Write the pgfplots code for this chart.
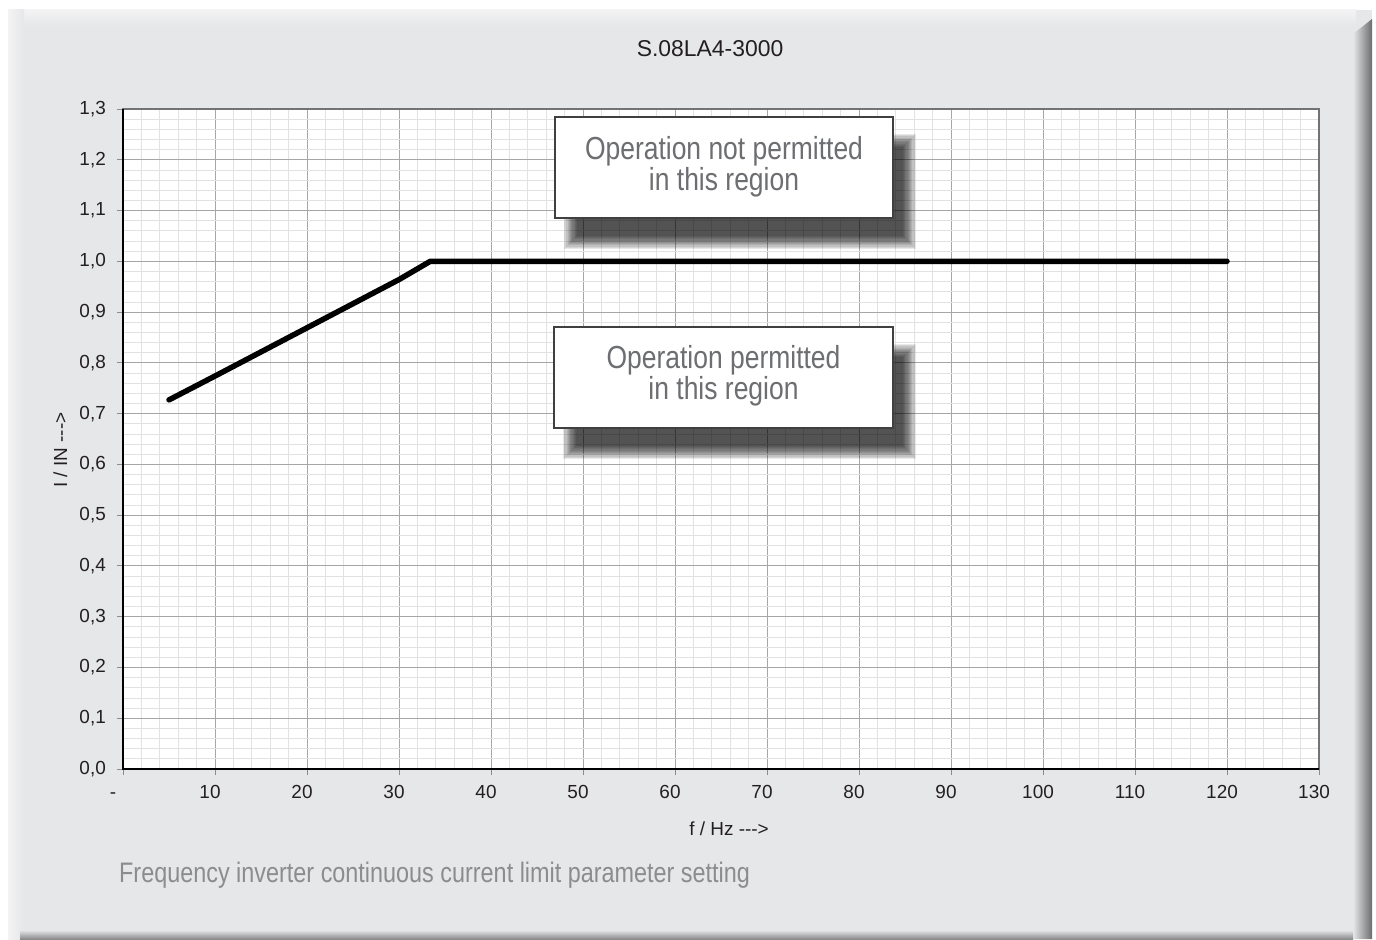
\documentclass[border=0pt]{standalone}
\usepackage{fontspec}
\setmainfont{Liberation Sans}
\newfontfamily\condfont[FakeStretch=0.83]{Liberation Sans}
\usepackage{pgfplots}
\pgfplotsset{compat=1.18}
\definecolor{panel}{HTML}{E6E7E9}
\definecolor{panelhi}{HTML}{F3F3F4}
\definecolor{shadowdark}{HTML}{6B6C6E}
\definecolor{shadowbot}{HTML}{8A8A8C}
\definecolor{gridmaj}{HTML}{A6A6A6}
\definecolor{gridmin}{HTML}{E2E2E2}
\definecolor{tickgray}{HTML}{8C8C8C}
\definecolor{boxtext}{HTML}{6D6E71}
\definecolor{bottomtext}{HTML}{8B8C8E}
\definecolor{titletext}{HTML}{231F20}
\newcommand{\blurshadow}[4]{%
  \foreach \e in {7,5.8,4.6,3.4,2.2,1,-0.2,-1.4,-2.6,-3.8,-5,-6.2}{%
    \fill[black, fill opacity=0.085] ({#1-(\e)},{#2-(\e)}) rectangle ({#3+(\e)},{#4+(\e)});
  }%
}
\begin{document}
\begin{tikzpicture}[x=1bp,y=1bp]
\useasboundingbox (0,0) rectangle (1376,939);
\fill[white] (0,0) rectangle (1376,939);
\fill[panel] (8,0) rectangle (1372,929);
\shade[top color=panelhi, bottom color=panel] (8,913) rectangle (1356,929);
\shade[left color=panelhi, right color=panel] (8,0) rectangle (24,929);
\shade[left color=panel, right color=shadowdark] (1353,0) -- (1353,905) -- (1372,920) -- (1372,0) -- cycle;
\shade[top color=panel, bottom color=shadowbot] (20,0) -- (20,9) -- (1353,9) -- (1353,0) -- cycle;
\begin{axis}[
  at={(123bp,170bp)}, anchor=south west,
  scale only axis, width=1196bp, height=660bp,
  axis background/.style={fill=white},
  xmin=0, xmax=130, ymin=0, ymax=1.3,
  xtick={0,10,20,30,40,50,60,70,80,90,100,110,120,130},
  xticklabels={{\vphantom{1}-\kern10bp},10,20,30,40,50,60,70,80,90,100,110,120,130},
  ytick={0,0.1,0.2,0.3,0.4,0.5,0.6,0.7,0.8,0.9,1.0,1.1,1.2,1.3},
  yticklabels={{0,0},{0,1},{0,2},{0,3},{0,4},{0,5},{0,6},{0,7},{0,8},{0,9},{1,0},{1,1},{1,2},{1,3}},
  minor x tick num=4, minor y tick num=4,
  grid=both,
  major grid style={color=gridmaj, line width=0.9bp},
  minor grid style={color=gridmin, line width=0.8bp},
  axis line style={color=gray!90!black, line width=1.5bp},
  tick pos=left, tick align=outside,
  major tick length=6bp, minor tick length=0bp,
  tick style={color=tickgray, line width=0.9bp},
  ticklabel style={font=\fontsize{19}{19}\selectfont, text=titletext, inner sep=0pt},
  xticklabel style={anchor=north, yshift=-10bp, xshift=-5bp},
  yticklabel style={anchor=east, xshift=-11bp},
  title={S.08LA4-3000},
  title style={at={(axis description cs:0.4908,1.0818)}, anchor=center, font=\fontsize{23}{23}\selectfont, text=titletext},
  xlabel={f / Hz {-}{-}{-}>},
  xlabel style={at={(axis description cs:0.5067,-0.1)}, anchor=base, font=\fontsize{19}{19}\selectfont, text=titletext},
  ylabel={I / IN {-}{-}{-}>},
  ylabel style={at={(axis description cs:-0.0468,0.4833)}, anchor=base, rotate=0, font=\fontsize{19}{19}\selectfont, text=titletext},
]
\addplot[black, line width=5.5bp, line cap=round, line join=round] coordinates {
  (5,0.727) (10,0.774) (20,0.869) (30,0.964) (33.4,1.0) (120,1.0)
};
\end{axis}
\draw[black, line width=2bp] (123,830) -- (123,170) -- (1319,170);
% boxes with shadows
\blurshadow{571}{697}{909}{798}
\fill[white] (555,721) rectangle (893,822);
\draw[black!75, line width=1.2bp] (555,721) rectangle (893,822);
\node[align=center, text=boxtext, font={\condfont\fontsize{32}{27.5}\selectfont}] at (724,772) {Operation not permitted\\in this region};
\blurshadow{570}{487}{909}{588}
\fill[white] (554,511) rectangle (893,612);
\draw[black!75, line width=1.2bp] (554,511) rectangle (893,612);
\node[align=center, text=boxtext, font={\condfont\fontsize{32}{27.5}\selectfont}] at (723.5,563) {Operation permitted\\in this region};
\node[anchor=base west, inner sep=0pt, text=bottomtext, font={\condfont\fontsize{28.3}{28}\selectfont}] at (119,57) {Frequency inverter continuous current limit parameter setting};
\end{tikzpicture}
\end{document}
